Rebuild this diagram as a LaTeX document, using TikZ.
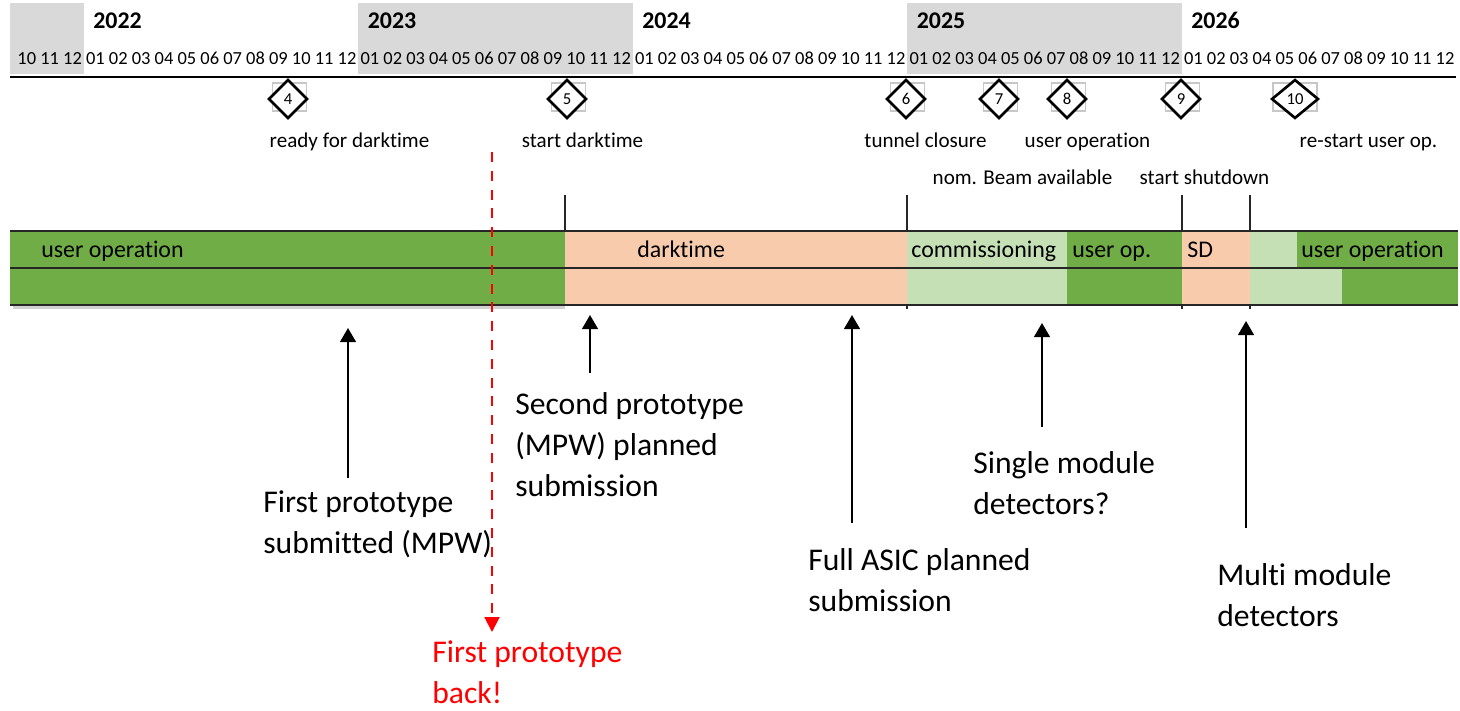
\documentclass[tikz,border=0pt]{standalone}
\usepackage{fontspec}
\setmainfont{Carlito}[Ligatures=NoCommon]
\usetikzlibrary{shapes.geometric,arrows.meta}
\definecolor{opgreen}{HTML}{70AD47}
\definecolor{dtpeach}{HTML}{F8CBAD}
\definecolor{comgreen}{HTML}{C5E0B4}
\definecolor{yeargray}{HTML}{D9D9D9}

\tikzset{
  yearlabel/.style={anchor=base west, inner sep=0pt, font=\bfseries\fontsize{13.6}{16}\selectfont},
  monthlabel/.style={anchor=base, inner sep=0pt, font=\fontsize{10.5}{12}\selectfont},
  milestone/.style={diamond, draw, line width=1.5pt, fill=white, inner sep=0pt,
    minimum width=0.78cm, minimum height=0.78cm, font=\fontsize{9.5}{10}\selectfont},
  msbox/.style={rectangle, draw=black!22, line width=0.7pt, minimum width=0.68cm, minimum height=0.56cm},
  mslabel/.style={anchor=base, inner sep=0pt, font=\fontsize{12}{14}\selectfont},
  barlabel/.style={anchor=base west, inner sep=0pt, font=\fontsize{13.6}{16}\selectfont},
  barline/.style={line width=1.1pt, black!85},
  note/.style={anchor=base west, inner sep=0pt, align=left, font=\fontsize{18}{23.2}\selectfont},
  uparrow/.style={-{Triangle[width=9pt,length=8pt]}, line width=1.1pt},
}

\begin{document}
\begin{tikzpicture}[x=0.02cm, y=-0.02cm]
  \useasboundingbox (0,0) rectangle (1460,710);

  \fill[yeargray] (10,3) rectangle (84,74);
  \fill[yeargray] (358,3) rectangle (633,74);
  \fill[yeargray] (907,3) rectangle (1182,74);
  \foreach \yr [count=\i from 0] in {2022,...,2026}
    \node (y\yr) [yearlabel] at ({93+274.5*\i},29) {\yr};
  \foreach \m in {10,11,12}
    \node (m2021-\m) [monthlabel] at ({84+(\m-12.5)*22.875},64) {\m};
  \foreach \yr [count=\i from 0] in {2022,...,2026}
    \foreach \m in {1,...,12}
      \node (m\yr-\m) [monthlabel] at ({84+(12*\i+\m-0.5)*22.875},64) {\ifnum\m<10 0\fi\m};
  \draw[line width=1.7pt] (10,77) -- (1456,77);

  \foreach \n/\x in {4/288,5/567,6/906,7/999,8/1067,9/1181} {
    \node (box\n) [msbox] at (\x+1.5,97) {};
    \node (ms\n) [milestone] at (\x,99) {\n};
  }
  \node (box10) [msbox, minimum width=0.88cm] at (1295,97) {};
  \node (ms10) [milestone, minimum width=0.94cm] at (1295,99) {10};

  \node (l4) [mslabel] at (349.5,147) {ready for darktime};
  \node (l5) [mslabel] at (582.5,147) {start darktime};
  \node (l6) [mslabel] at (925.5,147) {tunnel closure};
  \node (l8) [mslabel] at (1087.5,147) {user operation};
  \node (l10) [mslabel] at (1368.5,147) {re-start user op.};
  \node (l7) [mslabel] at (1022.5,184) {nom. Beam available};
  \node (l9) [mslabel] at (1204.5,184) {start shutdown};

  \fill[opgreen] (10,231) rectangle (565,305);
  \fill[dtpeach] (565,231) rectangle (907,305);
  \fill[comgreen] (907,231) rectangle (1067,305);
  \fill[opgreen] (1067,231) rectangle (1182,305);
  \fill[dtpeach] (1182,231) rectangle (1250,305);
  \fill[comgreen] (1250,231) rectangle (1297,268);
  \fill[opgreen] (1297,231) rectangle (1458,268);
  \fill[comgreen] (1250,268) rectangle (1342,305);
  \fill[opgreen] (1342,268) rectangle (1458,305);
  \fill[black!18] (13,305) rectangle (565,309);
  \foreach \yy in {231,268,305}
    \draw[barline] (10,\yy) -- (1458,\yy);
  \foreach \x in {565,907,1182,1250}
    \draw[barline] (\x,195) -- (\x,231);
  \foreach \x in {907,1182,1250}
    \draw[barline] (\x,305) -- (\x,309);

  \node (uop1) [barlabel] at (41,257) {user operation};
  \node (dark) [barlabel] at (637,257) {darktime};
  \node (comm) [barlabel] at (911,257) {commissioning};
  \node (uop2) [barlabel] at (1072,257) {user op.};
  \node (sd) [barlabel] at (1187,257) {SD};
  \node (uop3) [barlabel] at (1301,257) {user operation};

  \node (first) [note] at (263,553) {First prototype\\submitted (MPW)};
  \node (second) [note] at (515,496) {Second prototype\\(MPW) planned\\submission};
  \node (full) [note] at (808,611) {Full ASIC planned\\submission};
  \node (single) [note] at (973,514) {Single module\\detectors?};
  \node (multi) [note] at (1217,626) {Multi module\\detectors};
  \node (back) [note, text=red] at (432,703) {First prototype\\back!};

  \coordinate (a1) at (348,478); \coordinate (b1) at (348,328);
  \coordinate (a2) at (590,373); \coordinate (b2) at (590,315);
  \coordinate (a3) at (852,523); \coordinate (b3) at (852,315);
  \coordinate (a4) at (1042,427); \coordinate (b4) at (1042,323);
  \coordinate (a5) at (1246,528); \coordinate (b5) at (1246,321);
  \foreach \k in {1,...,5}
    \draw[uparrow] (a\k) -- (b\k);

  \coordinate (r0) at (492,152); \coordinate (r1) at (492,632);
  \draw[red, line width=1.2pt, dash pattern=on 5.7pt off 5pt,
    -{Triangle[width=8.5pt,length=8.5pt]}] (r0) -- (r1);
\end{tikzpicture}
\end{document}
